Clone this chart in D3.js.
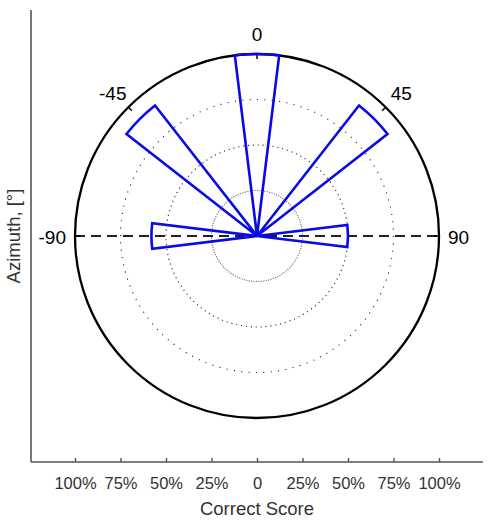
<!DOCTYPE html>
<html>
<head>
<meta charset="utf-8">
<script src="https://cdn.jsdelivr.net/npm/d3@7"></script>
<style>
  html, body { margin: 0; padding: 0; background: #fff; }
  svg { display: block; font-family: "Liberation Sans", Arial, sans-serif; }
</style>
</head>
<body>
<svg id="chart" width="491" height="532"></svg>
<script>
// ---- data ----
const azimuths = [-90, -45, 0, 45, 90];          // wedge directions (deg)
const scores = [0.58, 0.91, 1.00, 0.91, 0.50];   // correct score (fraction)
const gridLevels = [0.25, 0.5, 0.75];            // dotted rings
const angleTicks = [-90, -45, 0, 45, 90];        // azimuth labels
const xTickValues = [-1, -0.75, -0.5, -0.25, 0, 0.25, 0.5, 0.75, 1];
const xTickLabels = ["100%", "75%", "50%", "25%", "0", "25%", "50%", "75%", "100%"];
const wedgeHalfWidth = 7; // deg

// ---- layout ----
const svg = d3.select("#chart");
const frame = { left: 31, top: 10, right: 483, bottom: 462 };
const x = d3.scaleLinear().domain([-1, 1]).range([75, 439]);
const r = d3.scaleLinear().domain([0, 1]).range([0, x(1) - x(0)]);
const cx = x(0), cy = 236;
const rad = d => d * Math.PI / 180;

// frame
svg.append("line").attr("x1", frame.left).attr("x2", frame.left)
  .attr("y1", frame.top).attr("y2", frame.bottom)
  .attr("stroke", "#555").attr("stroke-width", 1.6);
svg.append("line").attr("x1", frame.left).attr("x2", frame.right)
  .attr("y1", frame.bottom).attr("y2", frame.bottom)
  .attr("stroke", "#555").attr("stroke-width", 1.6);

// bottom axis ticks + labels
const xAxis = d3.axisBottom(x).tickValues(xTickValues)
  .tickFormat((d, i) => xTickLabels[i]).tickSizeInner(-4).tickSizeOuter(0);
const gx = svg.append("g").attr("transform", `translate(0,${frame.bottom})`).call(xAxis);
gx.select(".domain").remove();
gx.selectAll(".tick line").attr("stroke", "#555").attr("stroke-width", 1.4);
gx.selectAll(".tick text").attr("y", 27).attr("dy", 0)
  .attr("font-size", 16.5).attr("fill", "#333")
  .attr("font-family", "Liberation Sans, Arial, sans-serif");

// axis titles
svg.append("text").attr("x", cx).attr("y", 515).attr("text-anchor", "middle")
  .attr("font-size", 18.5).attr("fill", "#333").text("Correct Score");
svg.append("text").attr("transform", `translate(20,236) rotate(-90)`)
  .attr("text-anchor", "middle").attr("font-size", 18.5).attr("fill", "#333")
  .text("Azimuth, [°]");

const g = svg.append("g").attr("transform", `translate(${cx},${cy})`);

// dotted grid rings
g.selectAll("circle.grid").data(gridLevels).join("circle")
  .attr("class", "grid").attr("r", d => r(d)).attr("fill", "none")
  .attr("stroke", (d, i) => i === 0 ? "#666" : "#222").attr("stroke-width", 1.1)
  .attr("stroke-dasharray", d => { const gap = 2 * Math.PI * r(d) / 116; return `1.1,${(gap - 1.1).toFixed(2)}`; });

// dashed horizontal diameter
g.append("line").attr("x1", -r(1)).attr("x2", r(1)).attr("y1", 0).attr("y2", 0)
  .attr("stroke", "#222").attr("stroke-width", 1.9).attr("stroke-dasharray", "10,6");

// outer circle
g.append("circle").attr("r", r(1)).attr("fill", "none")
  .attr("stroke", "#000").attr("stroke-width", 2.3);

// angle ticks on circle
g.selectAll("line.atick").data(angleTicks).join("line").attr("class", "atick")
  .attr("x1", d => Math.sin(rad(d)) * r(1)).attr("y1", d => -Math.cos(rad(d)) * r(1))
  .attr("x2", d => Math.sin(rad(d)) * (r(1) - 5)).attr("y2", d => -Math.cos(rad(d)) * (r(1) - 5))
  .attr("stroke", "#000").attr("stroke-width", 1.5);

// angle labels
g.selectAll("text.alabel").data(angleTicks).join("text").attr("class", "alabel")
  .attr("font-size", 19).attr("fill", "#000")
  .attr("text-anchor", d => d === -90 ? "end" : d === 90 ? "start" : "middle")
  .attr("x", d => Math.abs(d) === 90 ? Math.sign(d) * (r(1) + 9) : Math.sin(rad(d)) * (r(1) + 22))
  .attr("y", d => d === 0 ? -(r(1) + 13) : Math.abs(d) === 90 ? 1 : -Math.cos(rad(d)) * (r(1) + 20))
  .attr("dy", d => d === 0 ? 0 : "0.36em")
  .text(d => d);

// wedges
const arc = d3.arc().innerRadius(0);
g.selectAll("path.wedge").data(azimuths.map((a, i) => ({ a, v: scores[i] }))).join("path")
  .attr("class", "wedge")
  .attr("d", d => arc({ outerRadius: r(d.v), startAngle: rad(d.a - wedgeHalfWidth), endAngle: rad(d.a + wedgeHalfWidth) }))
  .attr("fill", "none").attr("stroke", "#0a0ae6").attr("stroke-width", 2.6)
  .attr("stroke-linejoin", "miter");
</script>
</body>
</html>
